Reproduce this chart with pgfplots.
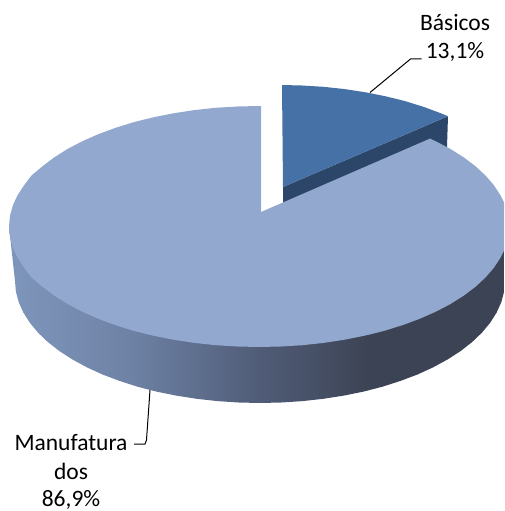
\documentclass[border=0pt]{standalone}
\usepackage{pgfplots}
\pgfplotsset{compat=1.18}
\usepackage{fontspec}
\setmainfont{Carlito}
\definecolor{bigtop}{HTML}{93A8CE}
\definecolor{smalltop}{HTML}{4571A6}
\definecolor{smallside}{HTML}{2C4669}
\definecolor{sa}{RGB}{127,150,188}
\definecolor{sb}{RGB}{110,130,165}
\definecolor{sc}{RGB}{80,92,119}
\definecolor{sd}{RGB}{60,67,84}
\pgfdeclarehorizontalshading{sidegrad}{100bp}{
 color(0bp)=(sa);
 color(25bp)=(sa);
 color(37.2bp)=(sb);
 color(50.35bp)=(sc);
 color(61.5bp)=(sd);
 color(75bp)=(sd);
 color(100bp)=(sd)}
\begin{document}
\begin{tikzpicture}
\begin{axis}[anchor=south west,at={(0pt,0pt)},scale only axis,width=504pt,height=511pt,xmin=0,xmax=504,ymin=0,ymax=511,y dir=reverse,hide axis,clip=true]
% small slice (13,1%): side, then top
\addplot[fill=smallside,draw=none] coordinates {(283,187)(448,116.2)(447,147)(283,204)(283,187)};
\addplot[fill=smalltop,draw=none] coordinates {(283,187)(282,85)(301.8,85.5)(323.4,86.8)(344.7,89.1)(365.5,92.3)(385.65,96.3)(405,101.1)(423.4,106.8)(440.7,113.2)(448,116.2)(283,187)};
% large slice (86,9%): side, then top
\addplot[shading=sidegrad,draw=none] coordinates {(9,226.5)(15,281)(15.9,291.6)(18.7,302.2)(23.4,312.6)(29.8,322.7)(38,332.6)(47.8,342)(59.3,351)(72.3,359.4)(86.8,367.3)(102.5,374.5)(119.5,380.9)(137.5,386.7)(156.5,391.6)(176.2,395.6)(196.6,398.8)(217.5,401.1)(238.6,402.5)(260,403)(281.4,402.5)(302.5,401.1)(323.4,398.8)(343.8,395.6)(363.5,391.6)(382.5,386.7)(400.5,380.9)(417.5,374.5)(433.2,367.3)(447.7,359.4)(460.7,351)(472.2,342)(482,332.6)(490.2,322.7)(496.6,312.6)(501.3,302.2)(504,292)(504,226.5)(9,226.5)};
\addplot[fill=bigtop,draw=none] coordinates {(261,212)(430,138.6)(435.8,141.3)(450.5,149)(463.8,157.4)(475.5,166.25)(485.6,175.6)(493.9,185.3)(500.5,195.3)(504,202.5)(504,250.5)(500.5,257.7)(493.9,267.7)(485.6,277.4)(475.5,286.75)(463.8,295.6)(450.5,304)(435.8,311.7)(419.7,318.8)(402.4,325.2)(384,330.9)(364.65,335.7)(344.5,339.7)(323.7,342.9)(302.4,345.2)(280.8,346.5)(259,347)(237.2,346.5)(215.6,345.2)(194.3,342.9)(173.5,339.7)(153.35,335.7)(134,330.9)(115.6,325.2)(98.3,318.8)(82.2,311.7)(67.5,304)(54.2,295.6)(42.5,286.75)(31.4,277.4)(24.1,267.7)(17.5,257.7)(12.8,247.4)(9.95,237)(9,226.5)(9.95,216)(12.8,205.6)(17.5,195.3)(24.1,185.3)(31.4,175.6)(42.5,166.25)(54.2,157.4)(67.5,149)(82.2,141.3)(98.3,134.2)(115.6,127.8)(134,122.1)(153.35,117.3)(173.5,113.3)(194.3,110.1)(215.6,107.8)(237.2,106.5)(259,106)(261,106)(261,212)};
% leader lines
\addplot[black,line width=1pt] coordinates {(370,92.5)(410.5,59)(421.5,59)};
\addplot[black,line width=1pt] coordinates {(150,390)(146.5,440)(145,444)(134,444)};
% labels
\node[font=\fontsize{23.5}{28}\selectfont,inner sep=0pt] at (axis cs:455,23) {Básicos};
\node[font=\fontsize{23.5}{28}\selectfont,inner sep=0pt] at (axis cs:455,52) {13,1\%};
\node[font=\fontsize{23.5}{28}\selectfont,inner sep=0pt] at (axis cs:71,442.7) {Manufatura};
\node[font=\fontsize{23.5}{28}\selectfont,inner sep=0pt] at (axis cs:71,471) {dos};
\node[font=\fontsize{23.5}{28}\selectfont,inner sep=0pt] at (axis cs:71,500) {86,9\%};
\path (axis cs:0,0) (axis cs:504,511);
\end{axis}
\end{tikzpicture}
\end{document}
